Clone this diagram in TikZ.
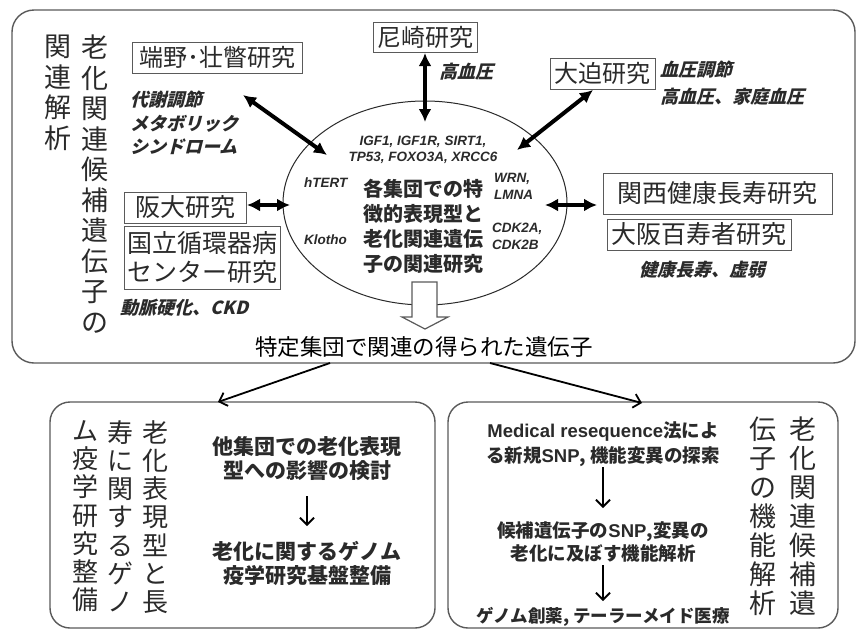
\documentclass[tikz,border=0pt]{standalone}
\usepackage{fontspec}
\setmainfont{Noto Sans CJK JP}
\newfontfamily\lat{Liberation Sans}
\usetikzlibrary{arrows.meta,shapes.geometric}
\definecolor{boxc}{HTML}{5A5A5A}
\definecolor{txt}{HTML}{2A2A2A}
\tikzset{
  lbox/.style={draw=boxc, line width=1pt, inner sep=0pt, text=txt, font=\fontsize{24}{27}\selectfont, align=center},
  vcol/.style={anchor=north, inner sep=0pt, align=center, text=txt},
  slab/.style={inner sep=0pt, text=txt, xslant=0.25, transform shape, font=\bfseries\fontsize{18}{23.5}\selectfont},
  gene/.style={inner sep=0pt, text=txt, font=\lat\bfseries\itshape\fontsize{13.5}{16.5}\selectfont},
  bjp/.style={inner sep=0pt, text=txt, align=center, font=\bfseries\fontsize{20}{25}\selectfont},
  dbl/.style={line width=4pt, {Latex[length=13pt,width=13pt]}-{Latex[length=13pt,width=13pt]}},
  thin/.style={line width=1.8pt, -{Straight Barb[length=7pt,width=14pt,line width=1.8pt]}},
  frame/.style={draw=boxc, line width=1.4pt, rounded corners=22pt}
}
\begin{document}
\begin{tikzpicture}[x=1pt,y=-1pt]
\useasboundingbox (0,0) rectangle (857,630);
\fill[white] (0,0) rectangle (857,630);
% frames
\draw[frame] (12,10) rectangle (855,363);
\draw[frame,rounded corners=20pt] (50,402) rectangle (435,628);
\draw[frame,rounded corners=20pt] (448,402) rectangle (838,628);

% left vertical titles
\node[vcol, font=\fontsize{27}{30.5}\selectfont] (vt1) at (95,35) {老\\化\\関\\連\\候\\補\\遺\\伝\\子\\の};
\node[vcol, font=\fontsize{27}{30.5}\selectfont] (vt2) at (58,35) {関\\連\\解\\析};

% study boxes
\node[lbox, minimum width=170pt, minimum height=31pt] (tanno) at (217,57.5) {端野･壮瞥研究};
\node[lbox, minimum width=104pt, minimum height=30pt] (amag) at (425,37) {尼崎研究};
\node[lbox, minimum width=105pt, minimum height=31pt] (ohas) at (602.5,73.5) {大迫研究};
\node[lbox, minimum width=229pt, minimum height=41pt, font=\fontsize{25}{27}\selectfont] (kansai) at (717.5,193.5) {関西健康長寿研究};
\node[lbox, minimum width=184pt, minimum height=31pt, font=\fontsize{25}{27}\selectfont] (osaka) at (699,234.5) {大阪百寿者研究};
\node[lbox, minimum width=122pt, minimum height=31pt, font=\fontsize{25}{27}\selectfont] (handai) at (185,207.5) {阪大研究};
\node[lbox, minimum width=156pt, minimum height=63pt, font=\fontsize{25}{29}\selectfont] (ncvc) at (202,257.5) {国立循環器病\\センター研究};

% italic labels
\node[slab, anchor=west] (m1) at (132,100) {代謝調節};
\node[slab, anchor=west] (m2) at (132,123.5) {メタボリック};
\node[slab, anchor=west] (m3) at (132,147) {シンドローム};
\node[slab, anchor=west] (hbp1) at (441,72) {高血圧};
\node[slab, anchor=west] (h1) at (662,70) {血圧調節};
\node[slab, anchor=west] (h2) at (662,97) {高血圧、家庭血圧};
\node[slab] (kenko) at (704,270) {健康長寿、虚弱};
\node[slab, anchor=west] (ckd) at (122,308) {動脈硬化、CKD};

% ellipse
\node[draw=txt, line width=1pt, ellipse, minimum width=284pt, minimum height=204pt, inner sep=0pt] (ell) at (425,203) {};
\node[gene, align=center] (g1) at (423,150) {IGF1, IGF1R, SIRT1,\\TP53, FOXO3A, XRCC6};
\node[gene, anchor=west] (g2) at (304,183) {hTERT};
\node[gene, anchor=west] (g3) at (304,240) {Klotho};
\node[gene, anchor=west, align=left] (g4) at (494,186.5) {WRN,\\LMNA};
\node[gene, anchor=west, align=left] (g5) at (492,236.5) {CDK2A,\\CDK2B};
\node[bjp] (ctext) at (423,226) {各集団での特\\徴的表現型と\\老化関連遺伝\\子の関連研究};

% double arrows
\coordinate (e1) at (327,155);
\coordinate (e2) at (425,122);
\coordinate (e3) at (517,150);
\coordinate (e4) at (290,205);
\coordinate (e5) at (545,205);
\coordinate (t1) at (243,95);
\coordinate (t2) at (425,53);
\coordinate (t3) at (593,90);
\coordinate (t4) at (247,205);
\coordinate (t5) at (597,205);
\draw[dbl] (t1) -- (e1);
\draw[dbl] (t2) -- (e2);
\draw[dbl] (t3) -- (e3);
\draw[dbl] (t4) -- (e4);
\draw[dbl] (e5) -- (t5);

% hollow arrow
\draw[boxc, line width=1.2pt, fill=white] (412,282) -- (437,282) -- (437,317) -- (448,317) -- (425,329) -- (402,317) -- (412,317) -- cycle;

\node[inner sep=0pt, text=black, font=\fontsize{22.5}{25}\selectfont] (spec) at (424,347) {特定集団で関連の得られた遺伝子};

% arrows to bottom boxes
\coordinate (s1) at (330,363);
\coordinate (s2) at (490,363);
\coordinate (b1) at (218,402);
\coordinate (b2) at (642,403);
\draw[thin] (s1) -- (b1);
\draw[thin] (s2) -- (b2);

% bottom left
\node[vcol, font=\fontsize{26}{28.3}\selectfont] (bl1) at (155,420) {老\\化\\表\\現\\型\\と\\長};
\node[vcol, font=\fontsize{26}{28.3}\selectfont] (bl2) at (120,420) {寿\\に\\関\\す\\る\\ゲ\\ノ};
\node[vcol, font=\fontsize{26}{28.3}\selectfont] (bl3) at (85,420) {ム\\疫\\学\\研\\究\\整\\備};
\node[bjp, font=\bfseries\fontsize{21}{23.5}\selectfont] (bl4) at (307,458.5) {他集団での老化表現\\型への影響の検討};
\node[bjp, font=\bfseries\fontsize{21}{23.5}\selectfont] (bl5) at (307,563.5) {老化に関するゲノム\\疫学研究基盤整備};
\draw[thin] (bl4.south |- 0,496) -- (bl5.north |- 0,526);

% bottom right
\node[vcol, font=\fontsize{27}{29}\selectfont] (br1) at (803,417) {老\\化\\関\\連\\候\\補\\遺};
\node[vcol, font=\fontsize{27}{29}\selectfont] (br2) at (763,417) {伝\\子\\の\\機\\能\\解\\析};
\node[bjp, font=\bfseries\fontsize{18.5}{25}\selectfont] (br3) at (603,444.5) {{\lat\bfseries Medical resequence}法によ\\る新規{\lat\bfseries SNP}, 機能変異の探索};
\node[bjp, font=\bfseries\fontsize{18.5}{23}\selectfont] (br4) at (603,541.5) {候補遺伝子の{\lat\bfseries SNP},変異の\\老化に及ぼす機能解析};
\node[bjp, font=\bfseries\fontsize{17.5}{20}\selectfont] (br5) at (603,617) {ゲノム創薬, テーラーメイド医療};
\draw[thin] (br3.south |- 0,467) -- (br4.north |- 0,508);
\draw[thin] (br4.south |- 0,565) -- (br5.north |- 0,601);
\end{tikzpicture}
\end{document}
